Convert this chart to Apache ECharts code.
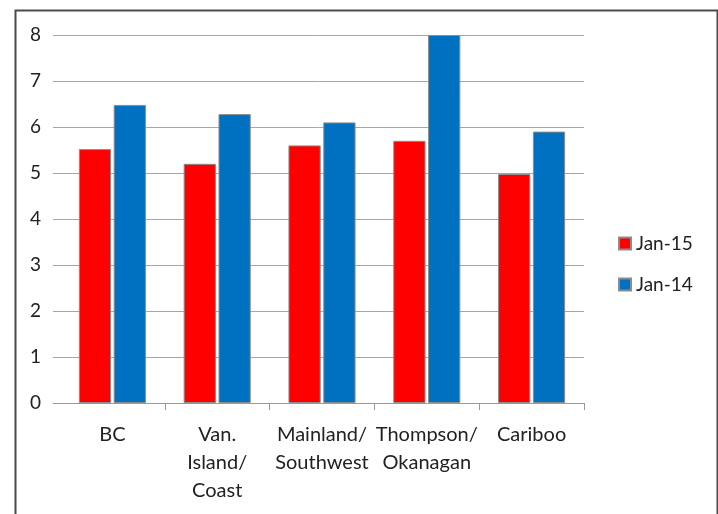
<!DOCTYPE html>
<html><head><meta charset="utf-8">
<script src="https://cdn.jsdelivr.net/npm/echarts@6/dist/echarts.min.js"></script>
<style>html,body{margin:0;padding:0;background:#fff}#c{width:718px;height:514px}</style>
</head><body><div id="c"></div>
<script>
const categories = ['BC', 'Van.\nIsland/\nCoast', 'Mainland/\nSouthwest', 'Thompson/\nOkanagan', 'Cariboo'];
const jan15 = [5.52, 5.2, 5.6, 5.7, 4.98];
const jan14 = [6.48, 6.28, 6.1, 8.0, 5.9];
const yTicks = {min: 0, max: 8, interval: 1};

const font = 'Lato, "Open Sans", sans-serif';
const chart = echarts.init(document.getElementById('c'));
chart.setOption({
  animation: false,
  backgroundColor: '#fff',
  graphic: [{
    type: 'rect', left: 13, top: 8, z: -1,
    shape: {width: 702, height: 530},
    style: {fill: 'none', stroke: '#4a4a4a', lineWidth: 2}
  }],
  grid: [
    {left: 53, right: 134, top: 35, bottom: 111},
    {left: 60, right: 134, top: 35, bottom: 111}
  ],
  legend: {
    orient: 'vertical', left: 613, top: 229, itemWidth: 12, itemHeight: 12, itemGap: 22,
    icon: 'rect',
    textStyle: {fontFamily: font, fontSize: 19, color: '#222'},
    data: ['Jan-15', 'Jan-14']
  },
  xAxis: [
    {
      type: 'category', gridIndex: 0, data: categories,
      axisLine: {lineStyle: {color: '#999', width: 1}},
      axisTick: {show: false}, axisLabel: {show: false}
    },
    {
      type: 'category', gridIndex: 1, data: categories,
      axisLine: {show: false},
      axisTick: {show: true, length: 7, lineStyle: {color: '#999'},
                 interval: function (i) { return i !== 0; }},
      axisLabel: {fontFamily: font, fontSize: 20, color: '#222', lineHeight: 28, margin: 18, interval: 0}
    }
  ],
  yAxis: [
    {
      type: 'value', gridIndex: 0, min: yTicks.min, max: yTicks.max, interval: yTicks.interval,
      axisLine: {show: false}, axisTick: {show: false},
      splitLine: {lineStyle: {color: '#a6a6a6', width: 1}},
      axisLabel: {fontFamily: font, fontSize: 19, color: '#222', margin: 12}
    },
    {
      type: 'value', gridIndex: 1, min: yTicks.min, max: yTicks.max, interval: yTicks.interval,
      axisLine: {show: false}, axisTick: {show: false}, splitLine: {show: false}, axisLabel: {show: false}
    }
  ],
  series: [
    {name: 'Jan-15', type: 'bar', xAxisIndex: 1, yAxisIndex: 1, data: jan15, barGap: '8%', barCategoryGap: '36%',
     itemStyle: {color: '#ff0000', borderColor: '#8c8c8c', borderWidth: 1}},
    {name: 'Jan-14', type: 'bar', xAxisIndex: 1, yAxisIndex: 1, data: jan14,
     itemStyle: {color: '#0070c0', borderColor: '#8c8c8c', borderWidth: 1}}
  ]
});
</script></body></html>
